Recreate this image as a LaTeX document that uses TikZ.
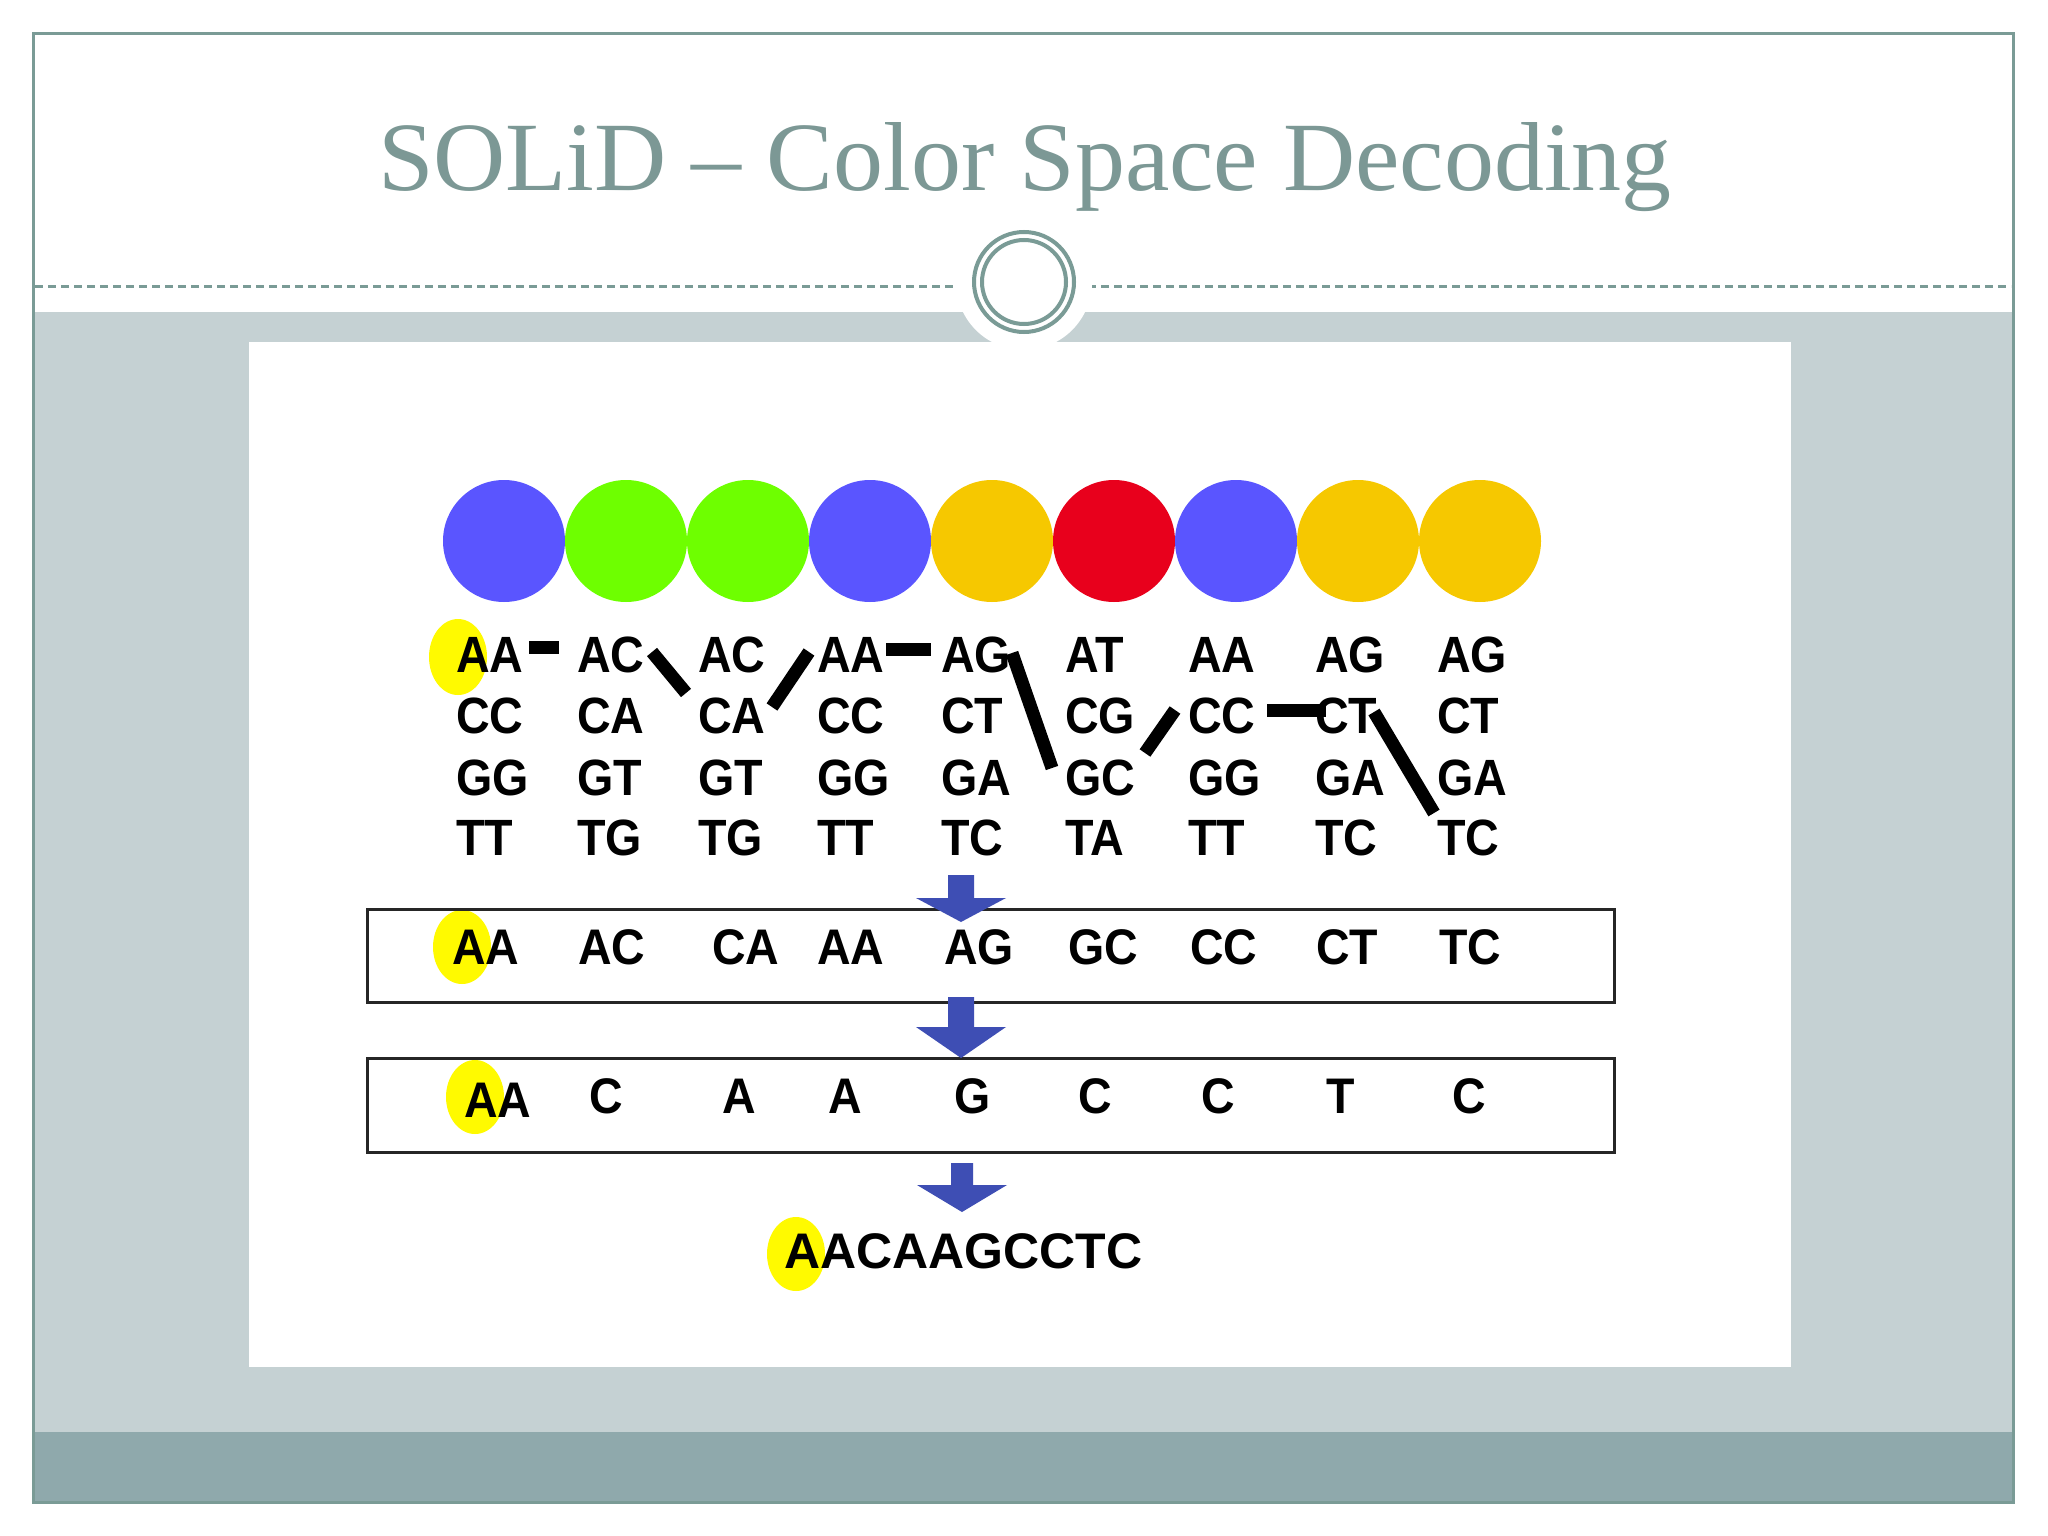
\documentclass[tikz,border=0pt]{standalone}
\usepackage{fontspec}
\usepackage{graphicx}
\setmainfont{Liberation Serif}
\newfontfamily\sansf{Liberation Sans}
\definecolor{frameteal}{RGB}{122,155,150}
\definecolor{titlecol}{RGB}{124,152,149}
\definecolor{bodygray}{RGB}{197,209,211}
\definecolor{bandgray}{RGB}{143,169,172}
\definecolor{dotblue}{RGB}{90,85,255}
\definecolor{dotgreen}{RGB}{110,255,0}
\definecolor{dotyellow}{RGB}{246,200,0}
\definecolor{dotred}{RGB}{232,0,28}
\definecolor{hlyellow}{RGB}{255,250,0}
\definecolor{arrowblue}{RGB}{62,78,180}
\newcommand\gx[1]{\scalebox{0.915}[1]{#1}}
\newcommand\bx[1]{\scalebox{0.93}[1]{#1}}
\newcommand\gridfont{\sansf\bfseries\fontsize{51}{51}\selectfont}
\newcommand\boxfont{\sansf\bfseries\fontsize{50}{50}\selectfont}
\newcommand\finalfont{\sansf\bfseries\fontsize{50}{50}\selectfont}
\tikzset{
  dot/.style={circle, inner sep=0pt, minimum size=122pt},
  gridtxt/.style={anchor=base west, inner sep=0pt, font=\gridfont},
  boxtxt/.style={anchor=base west, inner sep=0pt, font=\boxfont},
  finaltxt/.style={anchor=base west, inner sep=0pt, font=\finalfont},
  pathseg/.style={line width=13pt, black},
  resbox/.style={draw=black!85, line width=3pt},
  hl/.style={fill=hlyellow},
  blockarrow/.style={fill=arrowblue},
}
\begin{document}
\begin{tikzpicture}[x=1pt,y=-1pt]
\useasboundingbox (0,0) rectangle (2048,1536);
% slide background
\fill[white] (0,0) rectangle (2048,1536);
\fill[bodygray] (33,312) rectangle (2013,1432);
\fill[bandgray] (33,1432) rectangle (2013,1502);
\draw[frameteal, line width=3pt, dash pattern=on 8pt off 5pt] (35,286) -- (2011,286);
\draw[frameteal, line width=3pt] (33,34) rectangle (2013,1502);
% ornament
\fill[white] (1024,282) circle [radius=68pt];
\draw[frameteal, line width=4pt] (1024,282) circle [radius=50pt];
\draw[frameteal, line width=4pt] (1024,282) circle [radius=42pt];
% title
\node[anchor=base, inner sep=0pt, text=titlecol, font=\fontsize{98}{98}\selectfont] (title) at (1025,190) {\scalebox{1.02}[1]{SOLiD – Color Space Decoding}};
% picture panel
\fill[white] (249,342) rectangle (1791,1367);
% colour dots
\foreach \col [count=\i] in {dotblue,dotgreen,dotgreen,dotblue,dotyellow,dotred,dotblue,dotyellow,dotyellow} {
  \node[dot, fill=\col] (c\i) at ({504+122*(\i-1)},541) {};
}
% highlights
\fill[hl] (458,657) ellipse [x radius=29pt, y radius=38pt];
\fill[hl] (462,947) ellipse [x radius=29pt, y radius=37pt];
\fill[hl] (475,1097) ellipse [x radius=29pt, y radius=37pt];
\fill[hl] (796,1254) ellipse [x radius=29pt, y radius=37pt];
% grid of dinucleotides
\foreach \x/\ra/\rb/\rc/\rd [count=\i] in {456/AA/CC/GG/TT, 577/AC/CA/GT/TG, 698/AC/CA/GT/TG, 817/AA/CC/GG/TT, 941/AG/CT/GA/TC, 1065/AT/CG/GC/TA, 1188/AA/CC/GG/TT, 1315/AG/CT/GA/TC, 1437/AG/CT/GA/TC} {
  \node[gridtxt] (g1-\i) at (\x,672) {\gx{\ra}};
  \node[gridtxt] (g2-\i) at (\x,733) {\gx{\rb}};
  \node[gridtxt] (g3-\i) at (\x,795) {\gx{\rc}};
  \node[gridtxt] (g4-\i) at (\x,855) {\gx{\rd}};
}
% decoding path segments
\coordinate (s1a) at (529,647); \coordinate (s1b) at (559,647);
\coordinate (s2a) at (652,652); \coordinate (s2b) at (686,693);
\coordinate (s3a) at (772,707); \coordinate (s3b) at (809,652);
\coordinate (s4a) at (886,649); \coordinate (s4b) at (931,649);
\coordinate (s5a) at (1012,653); \coordinate (s5b) at (1052,768);
\coordinate (s6a) at (1145,753); \coordinate (s6b) at (1175,710);
\coordinate (s7a) at (1267,710); \coordinate (s7b) at (1326,710);
\coordinate (s8a) at (1374,712); \coordinate (s8b) at (1434,813);
\foreach \k in {1,...,8} { \draw[pathseg] (s\k a) -- (s\k b); }
% boxes
\draw[resbox] (367,909) rectangle (1614,1002);
\draw[resbox] (367,1058) rectangle (1614,1152);
\foreach \x/\t [count=\i] in {452/AA, 578/AC, 712/CA, 817/AA, 944/AG, 1068/GC, 1190/CC, 1316/CT, 1439/TC} {
  \node[boxtxt] (b1-\i) at (\x,964) {\bx{\t}};
}
\node[boxtxt] (b2-1) at (464,1117) {\bx{AA}};
\foreach \x/\t [count=\i from 2] in {589/C, 722/A, 828/A, 954/G, 1078/C, 1201/C, 1326/T, 1452/C} {
  \node[boxtxt] (b2-\i) at (\x,1113) {\bx{\t}};
}
% arrows
\fill[blockarrow] (948,875) -- (974,875) -- (974,898) -- (1006,898) -- (961,922) -- (916,898) -- (948,898) -- cycle;
\fill[blockarrow] (948,997) -- (974,997) -- (974,1027) -- (1006,1027) -- (961,1058) -- (916,1027) -- (948,1027) -- cycle;
\fill[blockarrow] (951,1163) -- (973,1163) -- (973,1185) -- (1007,1185) -- (962,1212) -- (917,1185) -- (951,1185) -- cycle;
% final sequence
\node[finaltxt] (final) at (784,1268) {AACAAGCCTC};
\end{tikzpicture}
\end{document}
